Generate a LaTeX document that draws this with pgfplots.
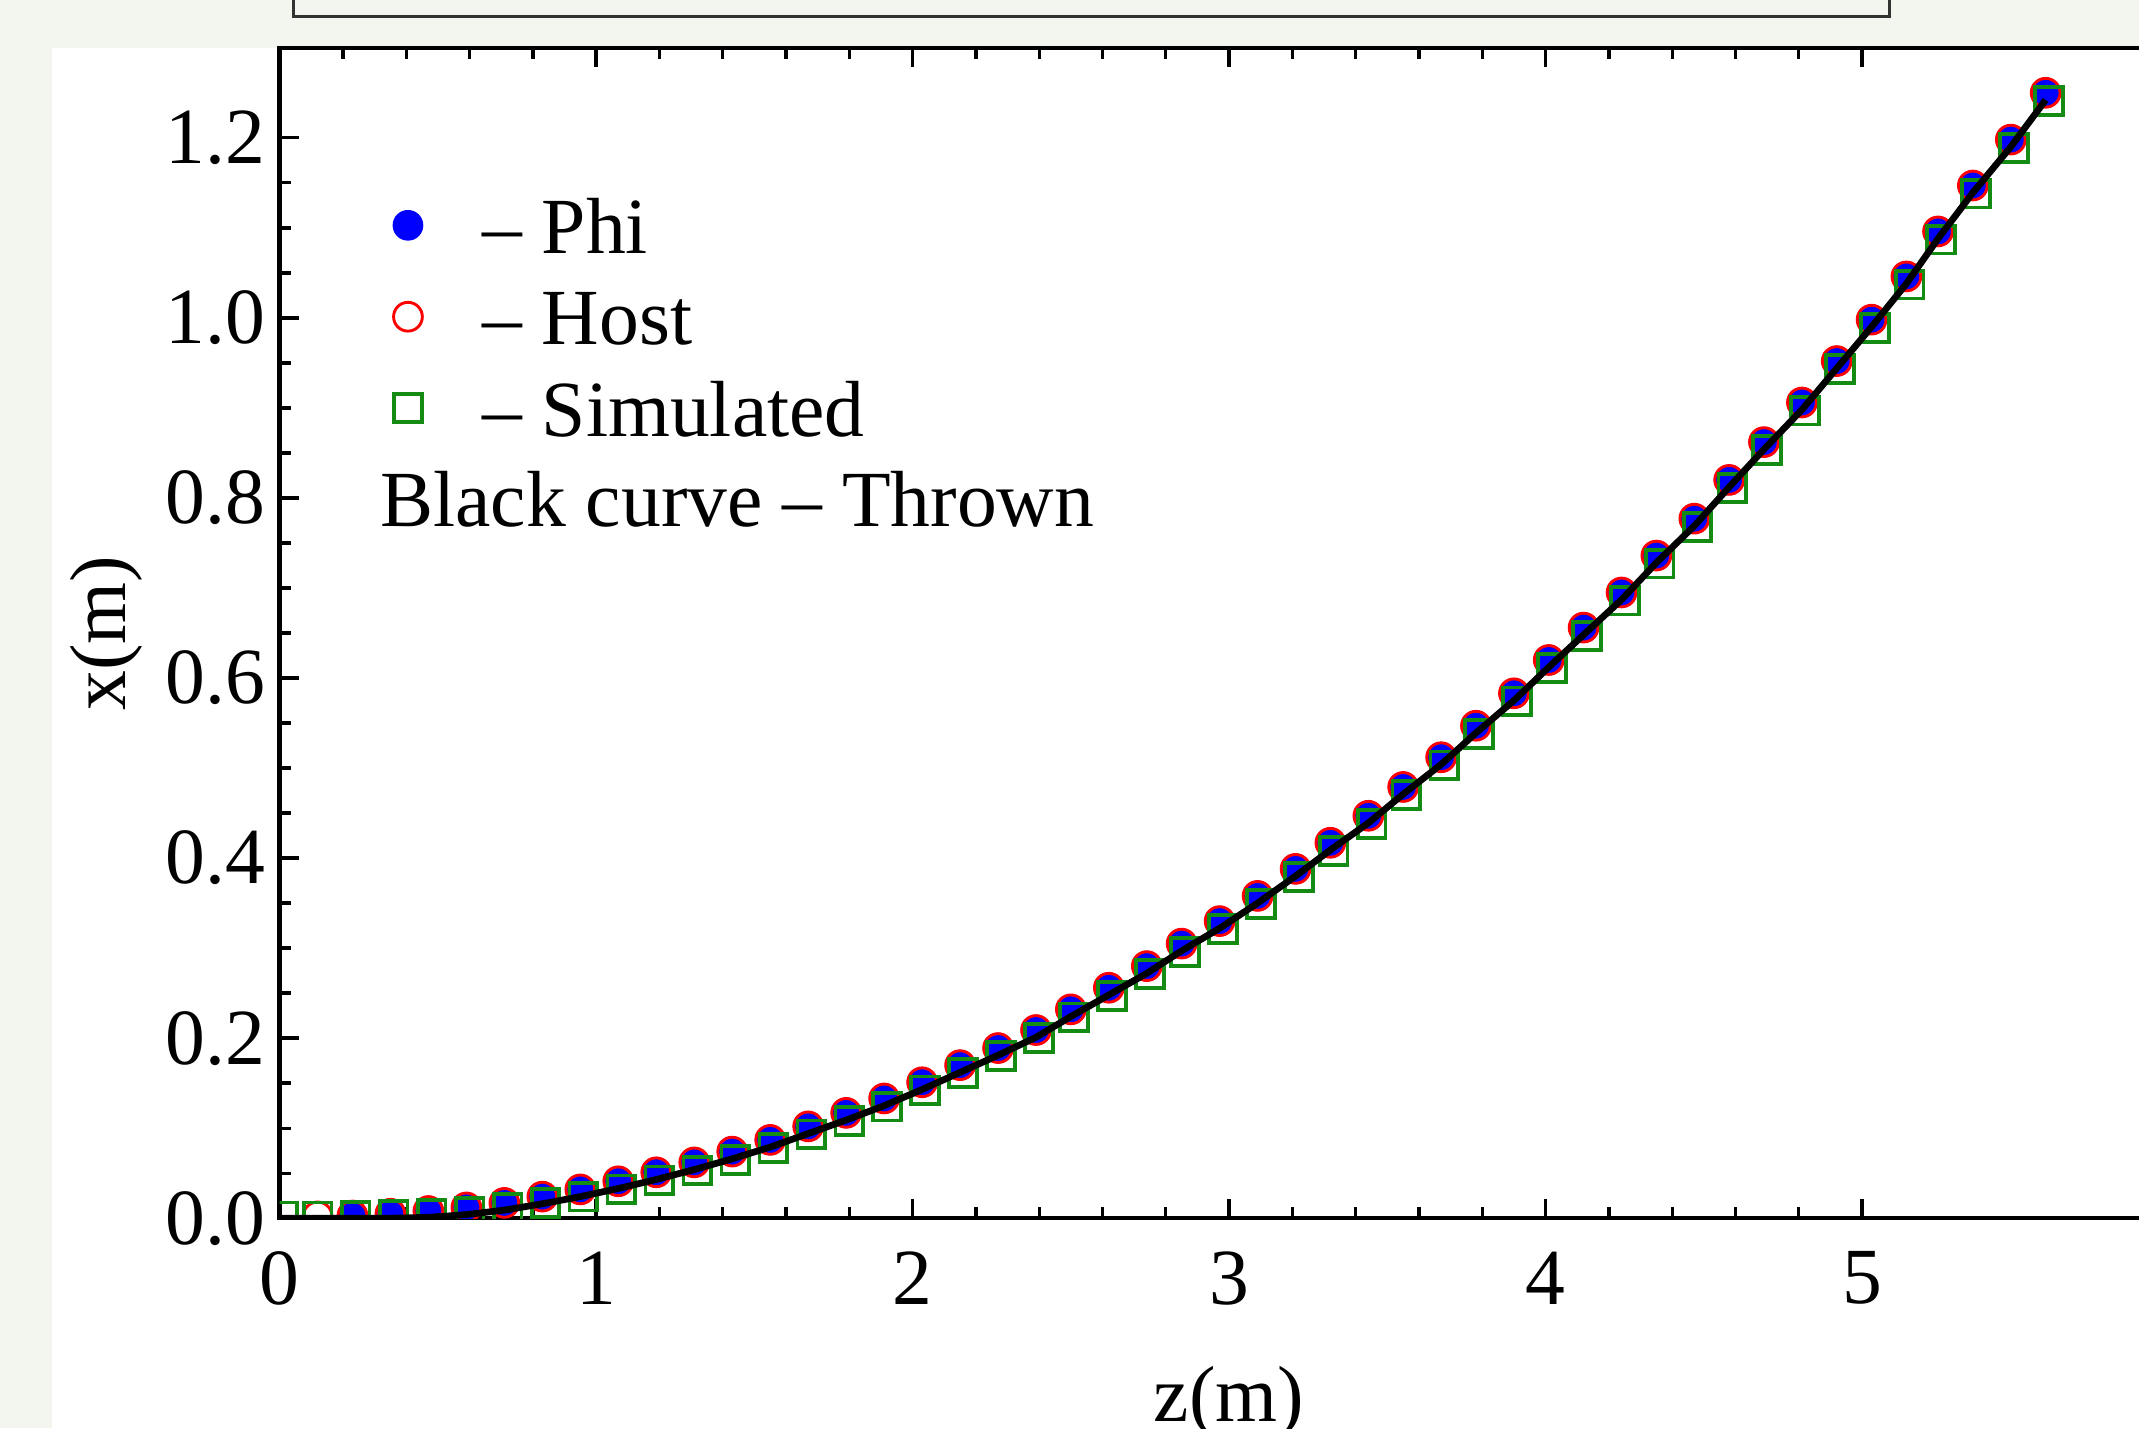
\documentclass[border=0pt]{standalone}
\usepackage{pgfplots}
\pgfplotsset{compat=1.18}
\usepackage{pgfplotstable}
\usepackage{fontspec}
\setmainfont{Liberation Serif}

\definecolor{pagebg}{RGB}{243,246,238}
\definecolor{simgreen}{RGB}{20,140,20}
\newcommand{\chartfont}{\fontsize{16.6}{20}\selectfont}

% z (m), x (m)
\pgfplotstableread{
z x
0.23 0.003
0.35 0.005
0.47 0.008
0.59 0.012
0.71 0.017
0.83 0.024
0.95 0.032
1.07 0.041
1.19 0.051
1.31 0.062
1.43 0.074
1.55 0.087
1.67 0.102
1.79 0.117
1.91 0.133
2.03 0.151
2.15 0.170
2.27 0.189
2.39 0.209
2.50 0.232
2.62 0.256
2.74 0.280
2.85 0.305
2.97 0.330
3.09 0.358
3.21 0.388
3.32 0.417
3.44 0.447
3.55 0.479
3.67 0.512
3.78 0.547
3.90 0.583
4.01 0.620
4.12 0.656
4.24 0.695
4.35 0.736
4.47 0.777
4.58 0.820
4.69 0.862
4.81 0.906
4.92 0.952
5.03 0.998
5.14 1.046
5.24 1.096
5.35 1.147
5.47 1.198
5.58 1.250
}\phidata

\pgfplotstableread{
z x
0.12 0.002
0.23 0.003
0.35 0.005
0.47 0.008
0.59 0.012
0.71 0.017
0.83 0.024
0.95 0.032
1.07 0.041
1.19 0.051
1.31 0.062
1.43 0.074
1.55 0.087
1.67 0.102
1.79 0.117
1.91 0.133
2.03 0.151
2.15 0.170
2.27 0.189
2.39 0.209
2.50 0.232
2.62 0.256
2.74 0.280
2.85 0.305
2.97 0.330
3.09 0.358
3.21 0.388
3.32 0.417
3.44 0.447
3.55 0.479
3.67 0.512
3.78 0.547
3.90 0.583
4.01 0.620
4.12 0.656
4.24 0.695
4.35 0.736
4.47 0.777
4.58 0.820
4.69 0.862
4.81 0.906
4.92 0.952
5.03 0.998
5.14 1.046
5.24 1.096
5.35 1.147
5.47 1.198
5.58 1.250
}\hostdata

\pgfplotstableread{
z x
0.01 0.002
0.12 0.002
0.24 0.003
0.36 0.004
0.48 0.005
0.60 0.007
0.72 0.011
0.84 0.017
0.96 0.024
1.08 0.032
1.20 0.042
1.32 0.053
1.44 0.065
1.56 0.078
1.68 0.093
1.80 0.108
1.92 0.124
2.04 0.142
2.16 0.161
2.28 0.180
2.40 0.200
2.51 0.223
2.63 0.247
2.75 0.271
2.86 0.296
2.98 0.321
3.10 0.349
3.22 0.379
3.33 0.408
3.45 0.438
3.56 0.470
3.68 0.503
3.79 0.538
3.91 0.574
4.02 0.611
4.13 0.647
4.25 0.686
4.36 0.727
4.48 0.768
4.59 0.811
4.70 0.853
4.82 0.897
4.93 0.943
5.04 0.989
5.15 1.037
5.25 1.087
5.36 1.138
5.48 1.189
5.59 1.241
}\simdata

\pgfplotstableread{
z x
0.00 0.000
0.35 0.000
0.47 0.001
0.59 0.004
0.71 0.009
0.83 0.016
0.95 0.024
1.07 0.033
1.19 0.043
1.31 0.054
1.43 0.066
1.55 0.079
1.67 0.094
1.79 0.109
1.91 0.125
2.03 0.143
2.15 0.162
2.27 0.181
2.39 0.201
2.50 0.224
2.62 0.248
2.74 0.272
2.85 0.297
2.97 0.322
3.09 0.350
3.21 0.380
3.32 0.409
3.44 0.439
3.55 0.471
3.67 0.504
3.78 0.539
3.90 0.575
4.01 0.612
4.12 0.648
4.24 0.687
4.35 0.728
4.47 0.769
4.58 0.812
4.69 0.854
4.81 0.898
4.92 0.944
5.03 0.990
5.14 1.038
5.24 1.088
5.35 1.139
5.47 1.190
5.58 1.242
}\throwndata

\begin{document}
\begin{tikzpicture}
\useasboundingbox (0,0) rectangle (15.68,10.47);
\clip (0,0) rectangle (15.68,10.47);
\fill[pagebg] (0,0) rectangle (15.68,10.47);
\fill[white] (0.38,0) rectangle (15.68,10.12);
\draw[black!80, line width=0.6pt] (2.15,10.35) rectangle (13.85,11);

\begin{axis}[
  at={(2.05cm,1.54cm)}, anchor=south west,
  scale only axis, width=13.92cm, height=8.58cm,
  xmin=0, xmax=6, ymin=0, ymax=1.3,
  axis line style={line width=0.9pt},
  xtick={0,1,2,3,4,5}, minor x tick num=4,
  ytick={0,0.2,0.4,0.6,0.8,1.0,1.2}, minor y tick num=3,
  yticklabel style={/pgf/number format/fixed, /pgf/number format/fixed zerofill,
    /pgf/number format/precision=1, inner sep=2.8pt},
  xticklabel style={inner sep=6.8pt},
  /pgf/number format/assume math mode=true,
  tick align=inside,
  major tick length=0.14cm, minor tick length=0.08cm,
  every tick/.style={black, line width=0.7pt},
  tick label style={font=\chartfont},
  xlabel={z(m)}, ylabel={x(m)},
  every axis x label/.style={at={(axis description cs:0.5,-0.1737)}, anchor=base, font=\chartfont},
  every axis y label/.style={at={(axis description cs:-0.0912,0.5)}, rotate=90, anchor=center, font=\chartfont},
  clip marker paths=true,
  legend style={at={(axis cs:0.267,1.144)}, anchor=north west, draw=none, fill=none,
    inner sep=0pt, row sep=0pt, font=\chartfont,
    nodes={inner ysep=0pt, inner xsep=0.23cm, text height=0.47cm, text depth=0.2cm}},
  legend cell align=left,
  legend image code/.code={\path (0cm,0cm) (0.6cm,0cm);
    \draw[mark repeat=2, mark phase=2, #1]
    plot coordinates {(0cm,0.07cm) (0.3cm,0.07cm) (0.6cm,0.07cm)};},
]
\addplot[only marks, mark=*, mark size=3pt, blue, fill=blue] table[x=z, y=x] {\phidata};
\addlegendentry{-- Phi}
\addplot[only marks, mark=o, mark size=3pt, red, line width=0.6pt] table[x=z, y=x] {\hostdata};
\addlegendentry{-- Host}
\addplot[only marks, mark=square, mark size=2.9pt, simgreen, line width=0.8pt] table[x=z, y=x] {\simdata};
\addlegendentry{-- Simulated}
\addplot[black, line width=1.4pt, forget plot] table[x=z, y=x] {\throwndata};
\node[anchor=base west, inner sep=0pt, font=\chartfont] at (axis cs:0.315,0.768) {Black curve -- Thrown};
\end{axis}
\end{tikzpicture}
\end{document}
